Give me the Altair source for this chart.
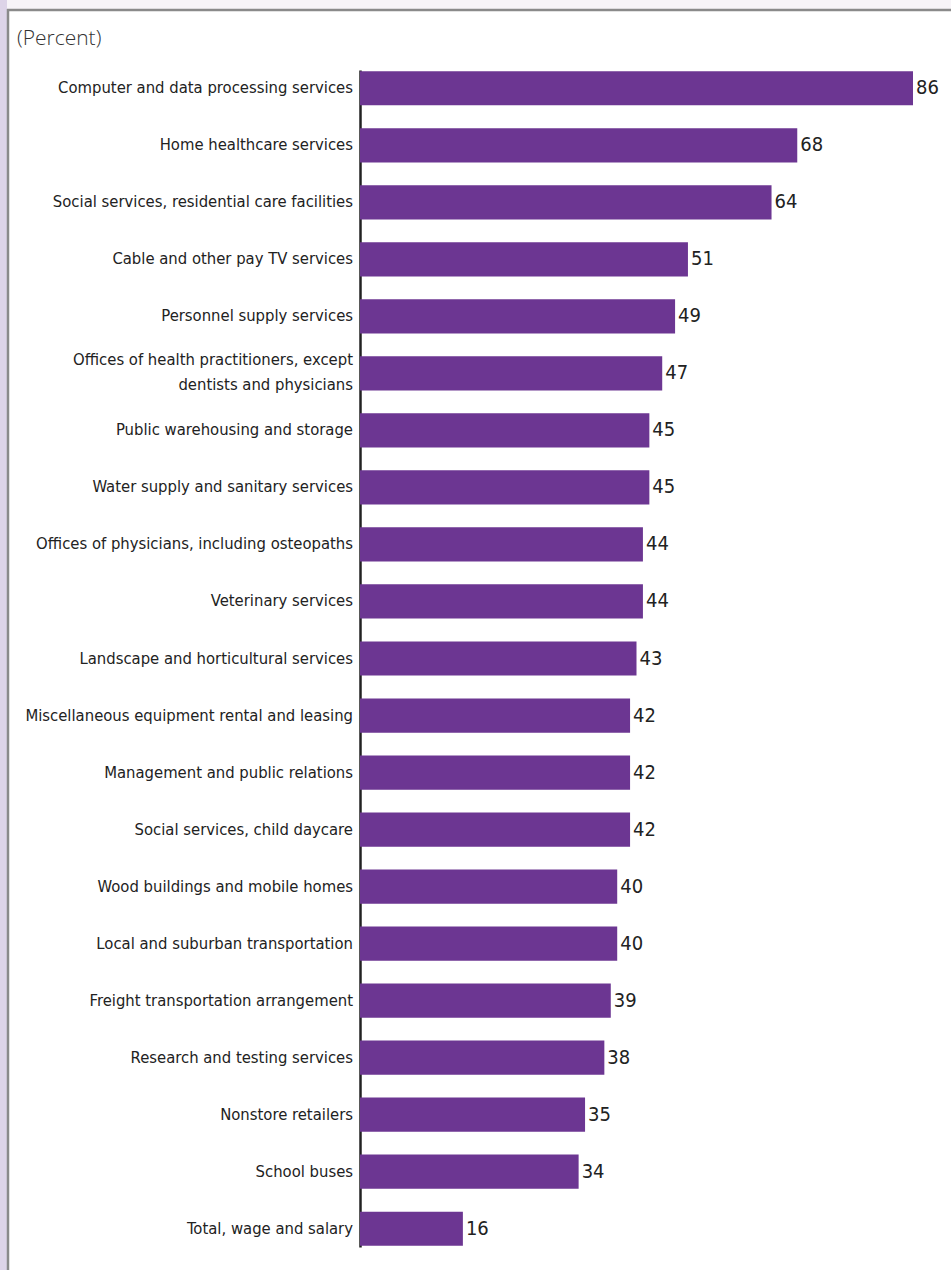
import altair as alt
import pandas as pd

categories = [
    "Computer and data processing services",
    "Home healthcare services",
    "Social services, residential care facilities",
    "Cable and other pay TV services",
    "Personnel supply services",
    "Offices of health practitioners, except|dentists and physicians",
    "Public warehousing and storage",
    "Water supply and sanitary services",
    "Offices of physicians, including osteopaths",
    "Veterinary services",
    "Landscape and horticultural services",
    "Miscellaneous equipment rental and leasing",
    "Management and public relations",
    "Social services, child daycare",
    "Wood buildings and mobile homes",
    "Local and suburban transportation",
    "Freight transportation arrangement",
    "Research and testing services",
    "Nonstore retailers",
    "School buses",
    "Total, wage and salary",
]
values = [86, 68, 64, 51, 49, 47, 45, 45, 44, 44, 43, 42, 42, 42, 40, 40, 39, 38, 35, 34, 16]

df = pd.DataFrame({"category": categories, "value": values})

FONT = "DejaVu Sans Condensed, sans-serif"
PURPLE = "#6c3692"

y_enc = alt.Y(
    "category:N",
    sort=categories,
    scale=alt.Scale(paddingInner=0.4, paddingOuter=0.02),
    axis=alt.Axis(
        title=None,
        ticks=False,
        labels=False,
        domainColor="#222222",
        domainWidth=2.5,
    ),
)
x_enc = alt.X(
    "value:Q",
    scale=alt.Scale(domain=[0, 86], nice=False),
    axis=None,
)

base = alt.Chart(df)
bars = base.mark_bar(color=PURPLE).encode(x=x_enc, y=y_enc)
labels = base.mark_text(
    align="left", baseline="middle", dx=3, font=FONT, fontSize=20, color="#222222"
).encode(x=x_enc, y=y_enc, text="value:Q")
cat_single = base.transform_filter(
    "indexof(datum.category, '|') < 0"
).mark_text(
    align="right", baseline="middle", font=FONT, fontSize=16.5, color="#222222"
).encode(x=alt.value(-7), y=y_enc, text="category:N")
cat_multi = base.transform_filter(
    "indexof(datum.category, '|') >= 0"
).mark_text(
    align="right", baseline="middle", font=FONT, fontSize=16.5, color="#222222",
    lineBreak="|", lineHeight=25, dy=-13
).encode(x=alt.value(-7), y=y_enc, text="category:N")

# decorative frame (pixel positions relative to plot area)
frame_df = pd.DataFrame({"k": [0]})
left_strip = alt.Chart(frame_df).mark_rect(color="#ddd4e8").encode(
    x=alt.value(-360), x2=alt.value(-353), y=alt.value(-70), y2=alt.value(1200)
)
top_strip = alt.Chart(frame_df).mark_rect(color="#f7f4f8").encode(
    x=alt.value(-353), x2=alt.value(591), y=alt.value(-70), y2=alt.value(-61)
)
left_border = alt.Chart(frame_df).mark_rule(color="#8a8a8a", strokeWidth=2.5).encode(
    x=alt.value(-352), y=alt.value(-61), y2=alt.value(1200)
)
top_border = alt.Chart(frame_df).mark_rule(color="#8a8a8a", strokeWidth=2.5).encode(
    x=alt.value(-353), x2=alt.value(591), y=alt.value(-60)
)
unit = alt.Chart(frame_df).mark_text(
    align="left", baseline="middle", font="Open Sans, Lato, sans-serif",
    fontSize=21, fontWeight=300, color="#333333"
).encode(x=alt.value(-343), y=alt.value(-31), text=alt.value("(Percent)"))

chart = alt.layer(
    left_strip, top_strip, left_border, top_border, unit, bars, labels,
    cat_single, cat_multi
).properties(
    width=553,
    height=1177,
    padding={"left": 360, "top": 70, "right": 38, "bottom": 23},
    autosize=alt.AutoSizeParams(type="none"),
    background="white",
).configure_view(stroke=None)

chart.save("out.html", embed_options={"renderer": "svg", "actions": False})
